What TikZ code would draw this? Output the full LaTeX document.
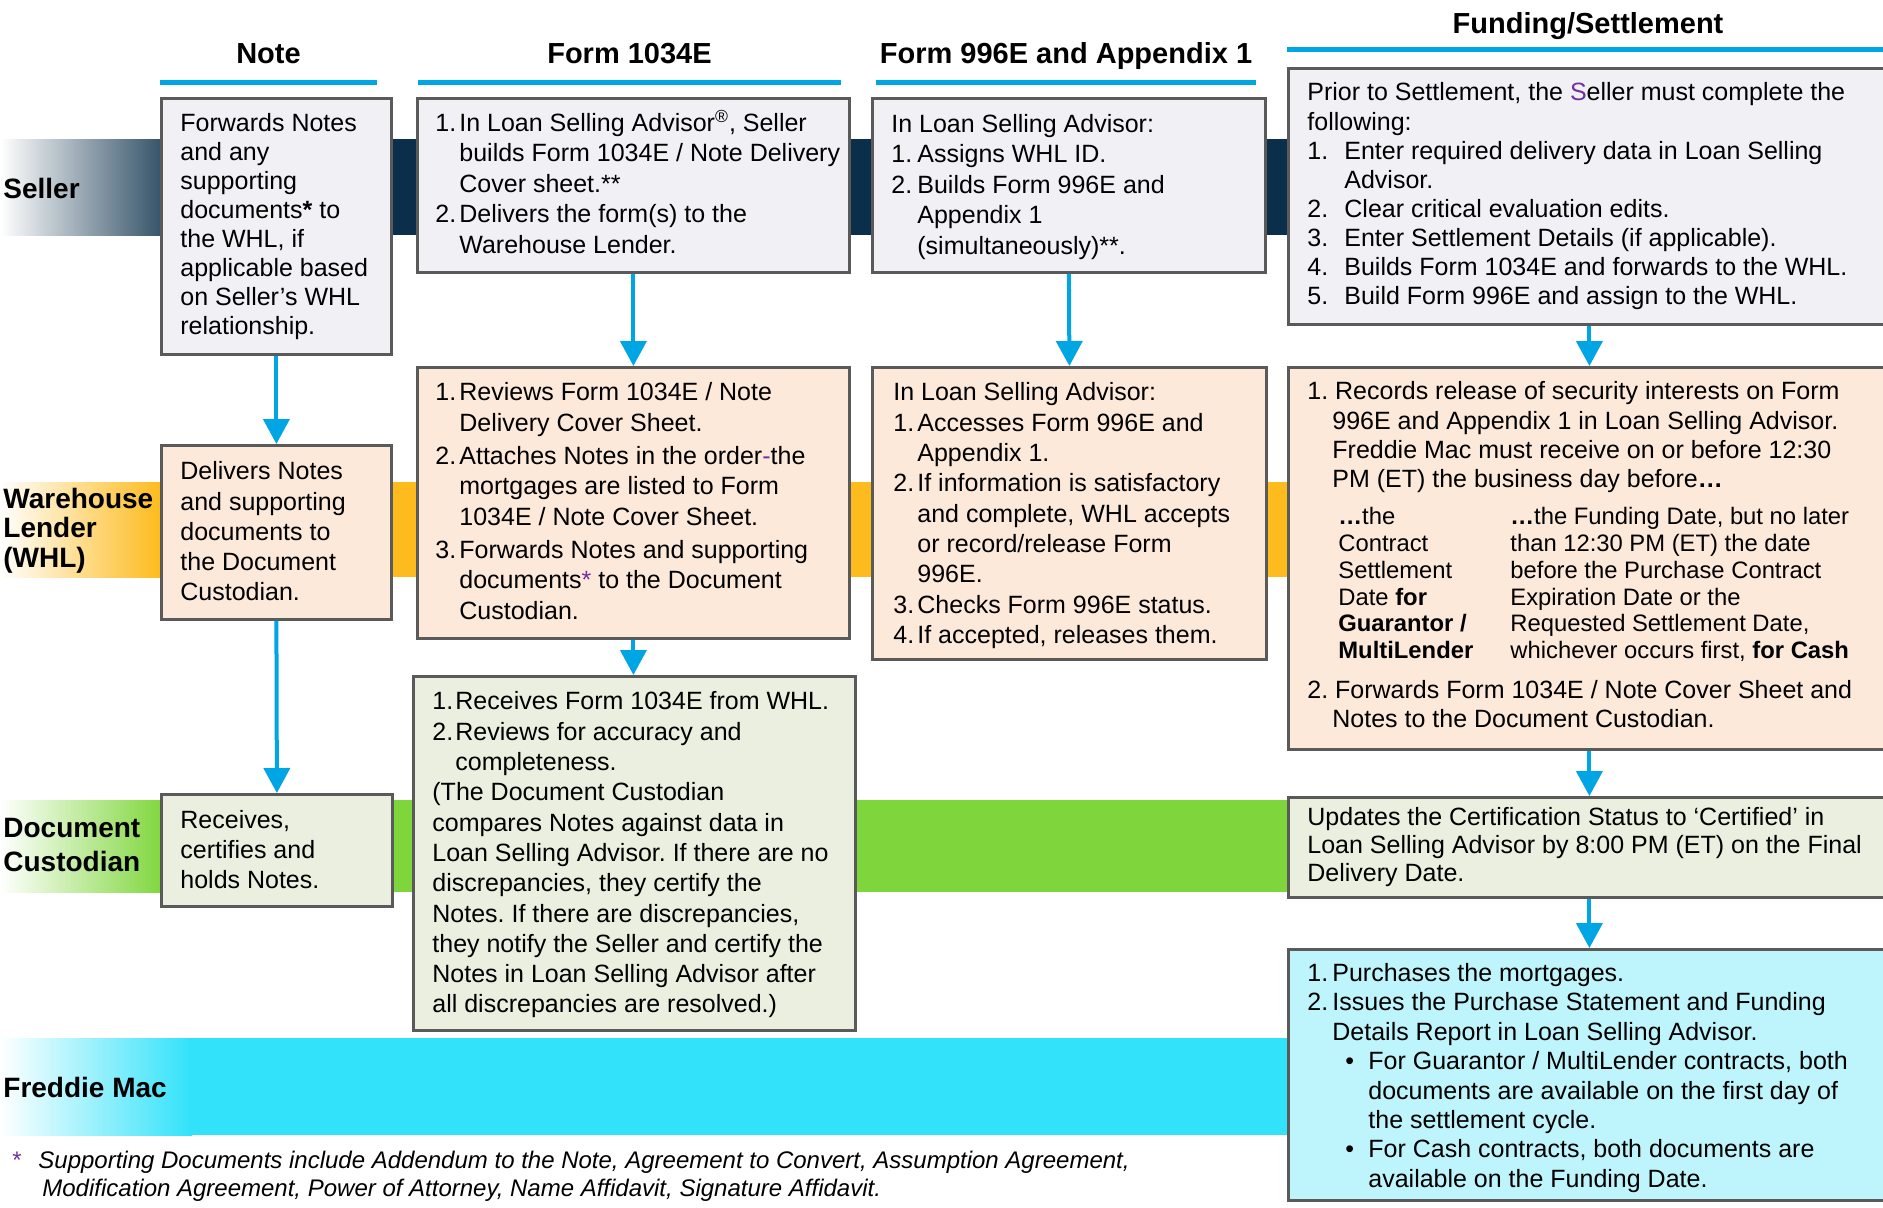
\documentclass[tikz,border=0pt]{standalone}
\usepackage{fontspec}
\setmainfont{Liberation Sans}
\usetikzlibrary{arrows.meta}
\definecolor{navy}{HTML}{0B2F4A}
\definecolor{whlorange}{HTML}{FDBB1E}
\definecolor{dcgreen}{HTML}{7FD63C}
\definecolor{fmcyan}{HTML}{31E2FA}
\definecolor{arrowblue}{HTML}{00A6E4}
\definecolor{bordergray}{HTML}{5A5A5A}
\definecolor{sellerfill}{HTML}{F1F0F5}
\definecolor{whlfill}{HTML}{FDE9DA}
\definecolor{dcfill}{HTML}{EBEFDF}
\definecolor{fmfill}{HTML}{BEF5FC}
\definecolor{accentpurple}{HTML}{7030A0}
\newcommand\mystrut{\rule{0pt}{11pt}}
\newcommand\mynum[2][12pt]{\makebox[#1][l]{#2}}
\newcommand\myind[1][12pt]{\hspace*{#1}}
\begin{document}
\frenchspacing
\begin{tikzpicture}[x=0.5pt,y=-0.5pt,
  box/.style={draw=bordergray, line width=1.4pt, anchor=north west, inner sep=0pt},
  txt/.style={anchor=north west, inner sep=0pt, align=left, font=\fontsize{12.5}{#1}\selectfont},
  smalltxt/.style={anchor=north west, inner sep=0pt, align=left, font=\fontsize{11.9}{#1}\selectfont},
  arr/.style={draw=arrowblue, line width=2pt, -{Triangle[width=13pt,length=12.5pt]}},
  hdr/.style={draw=arrowblue, line width=2.5pt},
  coltitle/.style={font=\bfseries\fontsize{14.5}{17}\selectfont, anchor=base, inner sep=0pt},
  lane/.style={font=\bfseries\fontsize{14}{#1}\selectfont, align=left, inner sep=0pt}
]
\useasboundingbox (0,0) rectangle (1883,1207);
\fill[white] (0,0) rectangle (1883,1207);
\clip (0,0) rectangle (1883,1207);

% swim lanes
\shade[left color=white, right color=navy] (0,139) rectangle (196,235);
\fill[navy] (195,139) rectangle (1292,235);
\shade[left color=white, right color=whlorange] (0,482) rectangle (160,577);
\fill[whlorange] (159,482) rectangle (1292,577);
\shade[left color=white, right color=dcgreen] (0,800) rectangle (165,892);
\fill[dcgreen] (164,800) rectangle (1292,892);
\shade[left color=white, right color=fmcyan] (0,1038) rectangle (192,1135);
\fill[fmcyan] (191,1038) rectangle (1292,1135);

% lane labels
\node[lane=17pt, anchor=base west] (lseller) at (3,198) {Seller};
\node[lane=14.75pt, anchor=north west] (lwhl) at (3,484) {\rule{0pt}{12pt}Warehouse\\Lender\\(WHL)};
\node[lane=17.25pt, anchor=north west] (ldc) at (3,813) {\rule{0pt}{12pt}Document\\Custodian};
\node[lane=17pt, anchor=base west] (lfm) at (3,1097) {Freddie Mac};

% column titles
\node[coltitle] (tnote) at (268.5,63.5) {Note};
\node[coltitle] (t1034) at (629.5,63.5) {Form 1034E};
\node[coltitle] (t996) at (1066,63.5) {Form 996E and Appendix 1};
\node[coltitle] (tfs) at (1588,33.5) {Funding/Settlement};
\draw[hdr] (160,82) -- (377,82);
\draw[hdr] (418,82) -- (841,82);
\draw[hdr] (876,82) -- (1256,82);
\draw[hdr] (1287,49) -- (1890,49);

% boxes
\node[box, fill=sellerfill, minimum width=115pt, minimum height=128pt] (n1) at (160,97) {};
\node[box, fill=whlfill, minimum width=115pt, minimum height=87pt] (n2) at (160,444) {};
\node[box, fill=dcfill, minimum width=115.5pt, minimum height=56pt] (n3) at (160,793) {};
\node[box, fill=sellerfill, minimum width=216pt, minimum height=87pt] (a1) at (416,97) {};
\node[box, fill=whlfill, minimum width=216pt, minimum height=135.5pt] (a2) at (416,366) {};
\node[box, fill=dcfill, minimum width=221pt, minimum height=177pt] (a3) at (412,675) {};
\node[box, fill=sellerfill, minimum width=196.5pt, minimum height=87pt] (b1) at (871,97) {};
\node[box, fill=whlfill, minimum width=197pt, minimum height=146pt] (b2) at (871,366) {};
\node[box, fill=sellerfill, minimum width=301pt, minimum height=128pt] (f1) at (1287,67) {};
\node[box, fill=whlfill, minimum width=301pt, minimum height=191pt] (f2) at (1287,366) {};
\node[box, fill=dcfill, minimum width=301pt, minimum height=50pt] (f3) at (1287,796) {};
\node[box, fill=fmfill, minimum width=301pt, minimum height=125.5pt] (f4) at (1287,948) {};

% connectors
\draw[arr] (n1.south) -- (n2.north);
\draw[arr] (n2.south) -- (n3.north);
\draw[arr] (a1.south) -- (a2.north);
\draw[arr] (a2.south) -- (a2.south |- a3.north);
\draw[arr] (b1.south) -- (b2.north);
\draw[arr] (f1.south) -- (f2.north);
\draw[arr] (f2.south) -- (f3.north);
\draw[arr] (f3.south) -- (f4.north);

% texts: Note column
\node[txt=14.5pt] (xn1) at (180,109) {\mystrut Forwards Notes\\and any\\supporting\\documents\textbf{*} to\\the WHL, if\\applicable based\\on Seller’s WHL\\relationship.};
\node[txt=15.1pt] (xn2) at (180,457.5) {\mystrut Delivers Notes\\and supporting\\documents to\\the Document\\Custodian.};
\node[txt=15pt] (xn3) at (180,806) {\mystrut Receives,\\certifies and\\holds Notes.};

% texts: Form 1034E column
\node[txt=15.2pt] (xa1) at (435,109) {\mystrut\mynum{1.}In Loan Selling Advisor\textsuperscript{®}, Seller\\\myind builds Form 1034E / Note Delivery\\\myind Cover sheet.**\\\mynum{2.}Delivers the form(s) to the\\\myind Warehouse Lender.};
\node[txt=15.25pt] (xa2) at (435,378.5) {\mystrut\mynum{1.}Reviews Form 1034E / Note\\\myind Delivery Cover Sheet.\\[1.25pt]\mynum{2.}Attaches Notes in the order\textcolor{accentpurple}{-}the\\\myind mortgages are listed to Form\\\myind 1034E / Note Cover Sheet.\\[1.25pt]\mynum{3.}Forwards Notes and supporting\\\myind documents\textcolor{accentpurple}{*} to the Document\\\myind Custodian.};
\node[txt=15.15pt] (xa3) at (432,687.5) {\mystrut\mynum[11.5pt]{1.}Receives Form 1034E from WHL.\\\mynum[11.5pt]{2.}Reviews for accuracy and\\\myind[11.5pt]completeness.\\(The Document Custodian\\compares Notes against data in\\Loan Selling Advisor. If there are no\\discrepancies, they certify the\\Notes. If there are discrepancies,\\they notify the Seller and certify the\\Notes in Loan Selling Advisor after\\all discrepancies are resolved.)};

% texts: Form 996E column
\node[txt=15.2pt] (xb1) at (891,110) {\mystrut In Loan Selling Advisor:\\\mynum[13pt]{1.}Assigns WHL ID.\\\mynum[13pt]{2.}Builds Form 996E and\\\myind[13pt]Appendix 1\\\myind[13pt](simultaneously)**.};
\node[txt=15.15pt] (xb2) at (893,378.5) {\mystrut In Loan Selling Advisor:\\\mynum{1.}Accesses Form 996E and\\\myind Appendix 1.\\\mynum{2.}If information is satisfactory\\\myind and complete, WHL accepts\\\myind or record/release Form\\\myind 996E.\\\mynum{3.}Checks Form 996E status.\\\mynum{4.}If accepted, releases them.};

% texts: Funding/Settlement column
\node[txt=14.55pt] (xf1) at (1307,78.5) {\mystrut Prior to Settlement, the \textcolor{accentpurple}{S}eller must complete the\\following:\\\mynum[18.5pt]{1.}Enter required delivery data in Loan Selling\\\myind[18.5pt]Advisor.\\\mynum[18.5pt]{2.}Clear critical evaluation edits.\\\mynum[18.5pt]{3.}Enter Settlement Details (if applicable).\\\mynum[18.5pt]{4.}Builds Form 1034E and forwards to the WHL.\\\mynum[18.5pt]{5.}Build Form 996E and assign to the WHL.};
\node[txt=14.6pt] (xf2a) at (1307,377.5) {\mystrut 1. Records release of security interests on Form\\\myind[12.5pt]996E and Appendix 1 in Loan Selling Advisor.\\\myind[12.5pt]Freddie Mac must receive on or before 12:30\\\myind[12.5pt]PM (ET) the business day before\textbf{…}};
\node[smalltxt=13.35pt] (xf2b) at (1338,502.5) {\mystrut\textbf{…}the\\Contract\\Settlement\\Date \textbf{for}\\\textbf{Guarantor /}\\\textbf{MultiLender}};
\node[smalltxt=13.35pt] (xf2c) at (1510,502.5) {\mystrut\textbf{…}the Funding Date, but no later\\than 12:30 PM (ET) the date\\before the Purchase Contract\\Expiration Date or the\\Requested Settlement Date,\\whichever occurs first, \textbf{for Cash}};
\node[txt=14.65pt] (xf2d) at (1307,676) {\mystrut 2. Forwards Form 1034E / Note Cover Sheet and\\\myind[12.5pt]Notes to the Document Custodian.};
\node[txt=13.9pt] (xf3) at (1307,803) {\mystrut Updates the Certification Status to ‘Certified’ in\\Loan Selling Advisor by 8:00 PM (ET) on the Final\\Delivery Date.};
\node[txt=14.7pt] (xf4) at (1307,959) {\mystrut\mynum[12.5pt]{1.}Purchases the mortgages.\\\mynum[12.5pt]{2.}Issues the Purchase Statement and Funding\\\myind[12.5pt]Details Report in Loan Selling Advisor.\\\myind[19pt]\mynum[11.5pt]{•}For Guarantor / MultiLender contracts, both\\\myind[30.5pt]documents are available on the first day of\\\myind[30.5pt]the settlement cycle.\\\myind[19pt]\mynum[11.5pt]{•}For Cash contracts, both documents are\\\myind[30.5pt]available on the Funding Date.};

% footnote
\node[anchor=north west, inner sep=0pt, font=\fontsize{12}{14}\selectfont, text=accentpurple] (fstar) at (12,1146) {\mystrut *};
\node[anchor=north west, inner sep=0pt, align=left, font=\itshape\fontsize{12}{14}\selectfont] (fnote) at (38,1146) {\mystrut Supporting Documents include Addendum to the Note, Agreement to Convert, Assumption Agreement,\\\myind[2pt]Modification Agreement, Power of Attorney, Name Affidavit, Signature Affidavit.};
\end{tikzpicture}
\end{document}
